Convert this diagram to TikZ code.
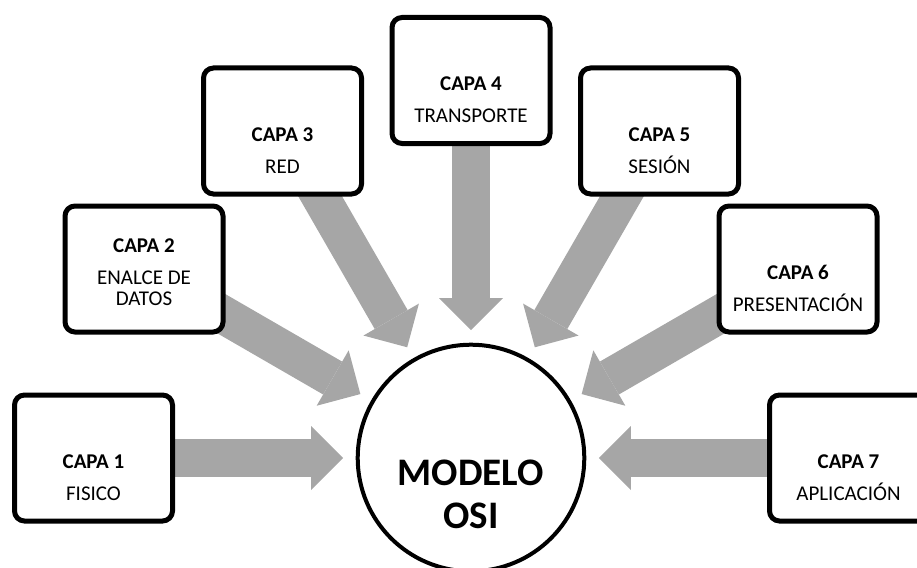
\documentclass[tikz,border=0pt]{standalone}
\usepackage{fontspec}
\setmainfont{Carlito}
\usetikzlibrary{arrows.meta,backgrounds}
\definecolor{flechagris}{HTML}{A6A6A6}

\newcommand{\capatexto}[3]{\raisebox{#1}[0pt][0pt]{\begin{tabular}[t]{@{}c@{}}\textbf{#2}\\#3\end{tabular}}}

\tikzset{
  capa/.style={draw, line width=5pt, rounded corners=10pt, fill=white,
    minimum width=158pt, minimum height=126pt, inner sep=0pt,
    font=\fontsize{21}{32}\selectfont},
  modelo/.style={draw, circle, line width=4pt, fill=white,
    minimum size=226.6pt, inner sep=0pt,
    font=\fontsize{39}{43}\selectfont\bfseries},
  flecha/.style={draw=flechagris, line width=38pt,
    -{Triangle[width=64pt,length=32pt,line width=0pt]}, shorten >=12.5pt}
}

\begin{document}
\begin{tikzpicture}[x=1pt, y=-1pt]
  \useasboundingbox (0,0) rectangle (917,567);
  \clip (0,0) rectangle (917,567);

  % the model in the middle
  \node[modelo] (osi) at (471,458)
    {\raisebox{-27pt}[0pt][0pt]{\begin{tabular}[t]{@{}c@{}}MODELO\\OSI\end{tabular}}};

  % the seven layers, each with its arrow
  \foreach \n/\x/\y/\dy/\nombre in {
      1/93.5/458/-10pt/FISICO,
      2/144/269/17pt/{ENALCE DE\\[-10.3pt]DATOS},
      3/282.5/131/-10pt/RED,
      4/471/80.5/-10pt/TRANSPORTE,
      5/659.5/131/-10pt/SESIÓN,
      6/798/269/-10pt/PRESENTACIÓN,
      7/848.5/458/-10pt/APLICACIÓN
    } {
      \node[capa] (b\n) at (\x,\y) {\capatexto{\dy}{CAPA \n}{\nombre}};
      \begin{scope}[on background layer]
        \draw[flecha] (b\n.center) -- (osi);
      \end{scope}
    }

\end{tikzpicture}
\end{document}
